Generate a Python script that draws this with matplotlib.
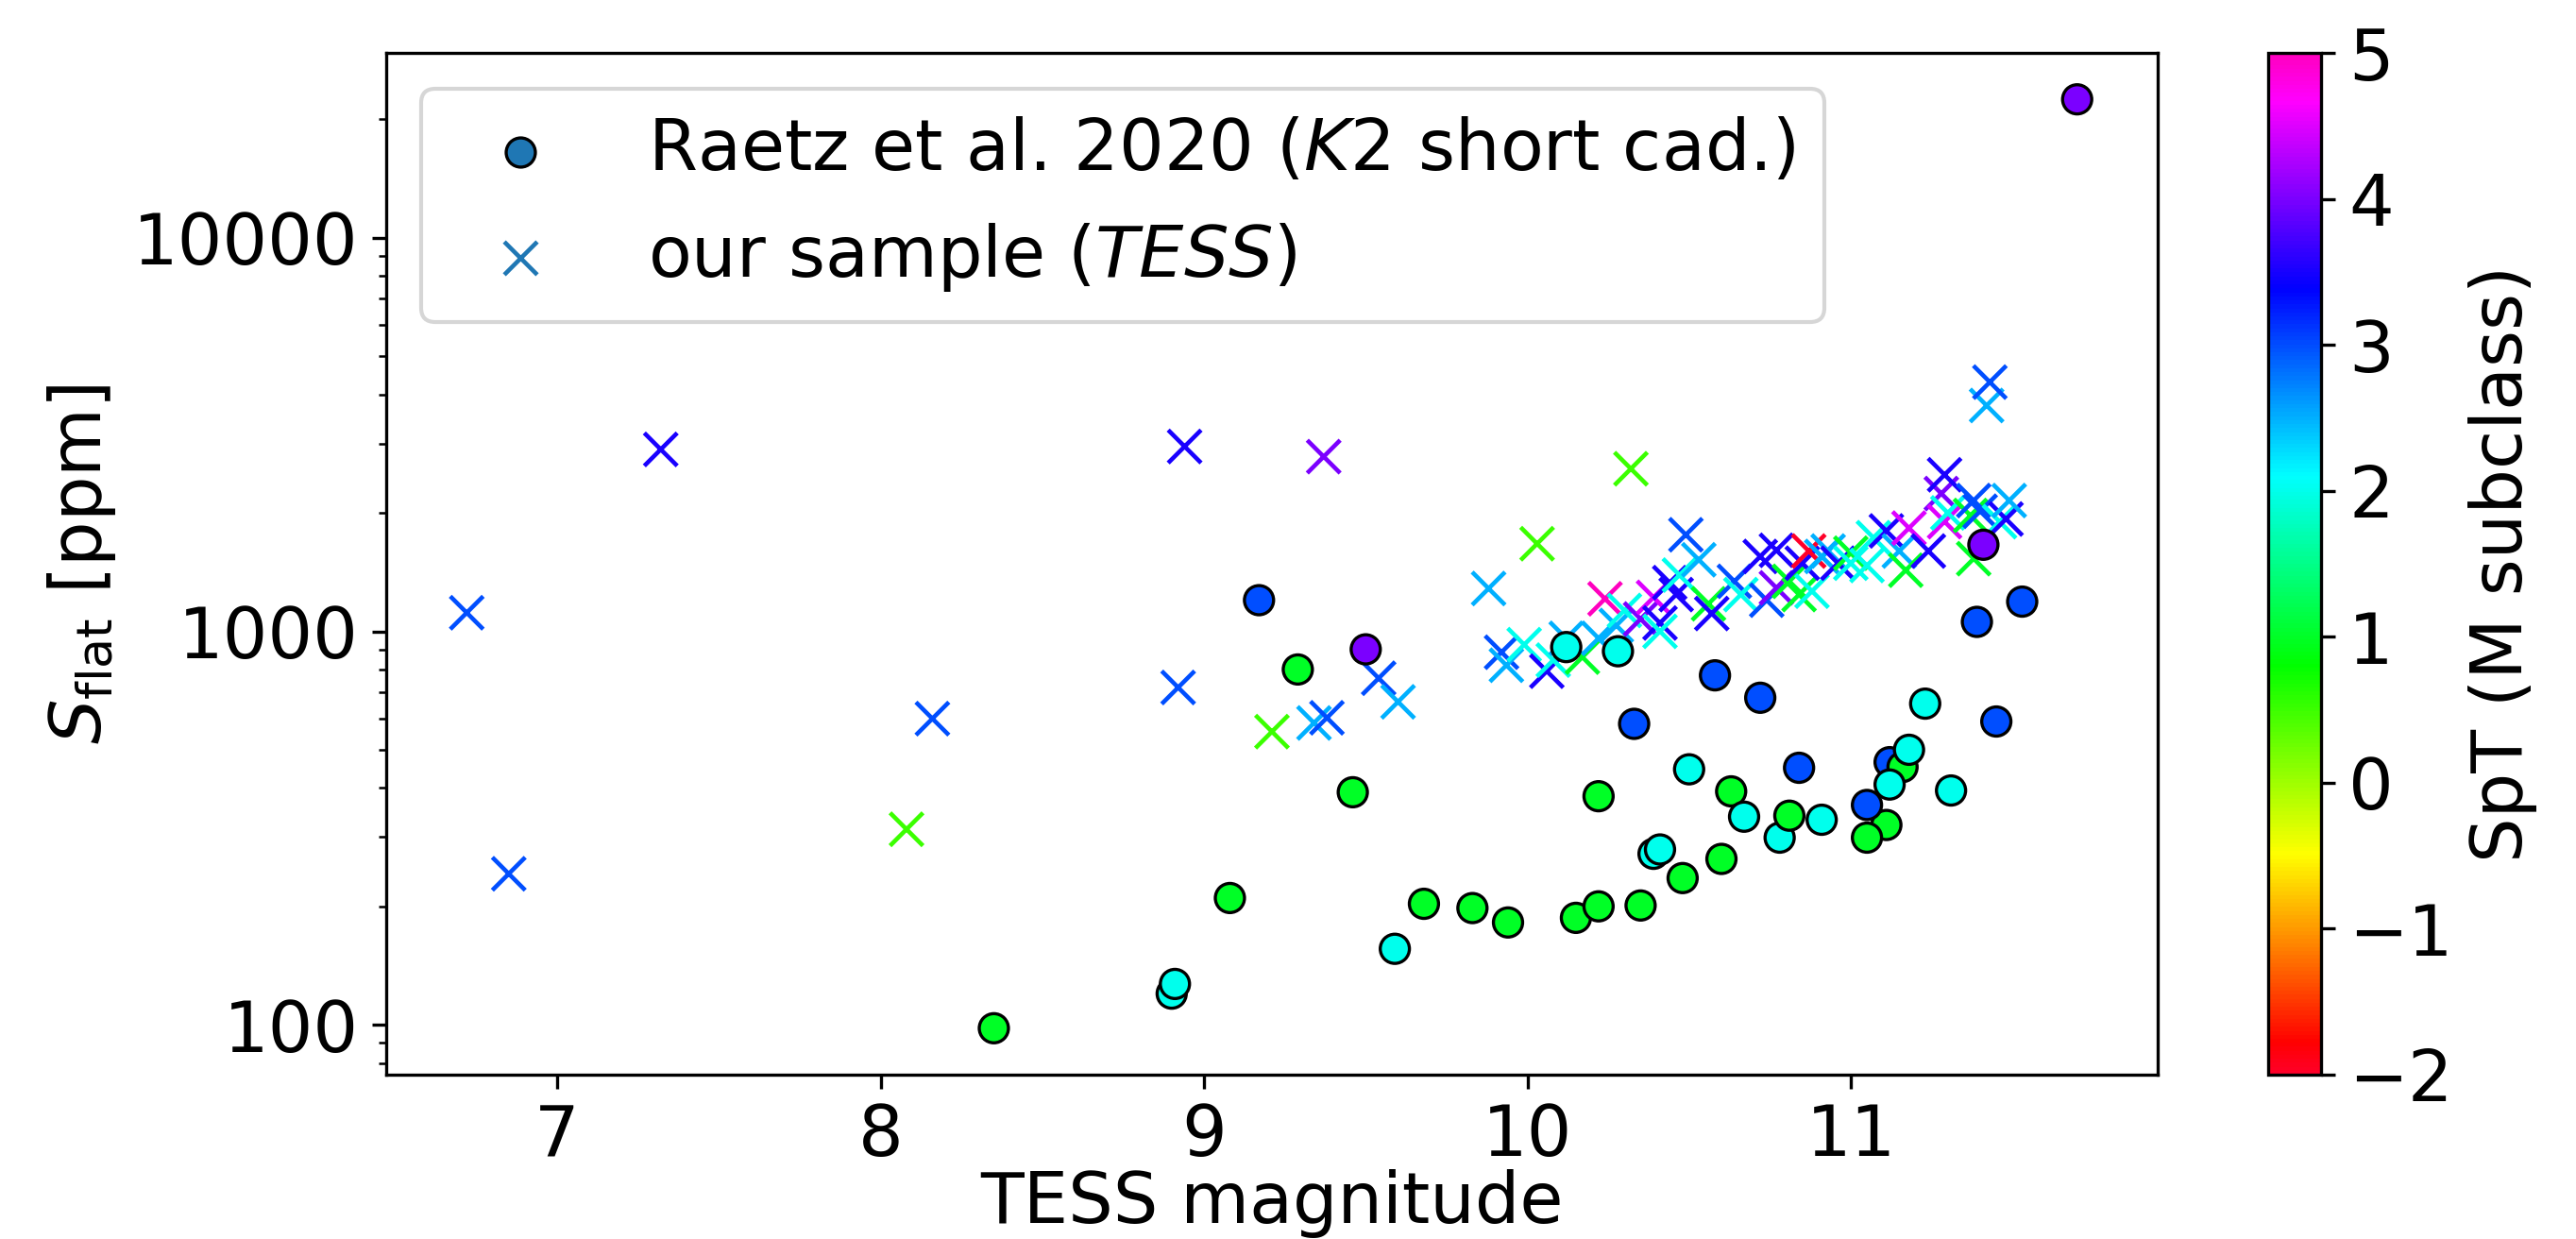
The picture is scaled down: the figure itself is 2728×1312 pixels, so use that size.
import numpy as np
import matplotlib
matplotlib.use('Agg')
import matplotlib.pyplot as plt
from matplotlib.ticker import ScalarFormatter

plt.rcParams['font.size'] = 18

# Raetz et al. 2020 (K2 short cadence): TESS mag, S_flat [ppm], SpT (M subclass)
raetz_mag = [8.35, 8.90, 8.91, 9.08, 9.17, 9.29, 9.46, 9.50, 9.59, 9.68,
             9.83, 9.94, 10.12, 10.15, 10.22, 10.22, 10.28, 10.33, 10.35, 10.39,
             10.41, 10.48, 10.50, 10.58, 10.60, 10.63, 10.67, 10.72, 10.78, 10.81,
             10.84, 10.91, 11.12, 11.16, 11.12, 11.18, 11.11, 11.05, 11.05, 11.23,
             11.31, 11.39, 11.41, 11.45, 11.53, 11.70]
raetz_sflat = [98, 120, 127, 210, 1200, 800, 390, 900, 156, 203,
               198, 182, 912, 187, 200, 381, 890, 582, 201, 272,
               279, 236, 446, 773, 264, 392, 338, 678, 299, 340,
               450, 332, 465, 452, 408, 500, 322, 362, 299, 655,
               394, 1057, 1660, 590, 1190, 22500]
raetz_spt = [1, 2, 2, 1, 3, 1, 1, 4, 2, 1,
             1, 1, 2, 1, 1, 1, 2, 3, 1, 2,
             2, 1, 2, 3, 1, 1, 2, 3, 2, 1,
             3, 2, 3, 1, 2, 2, 1, 3, 1, 2,
             2, 3, 4, 3, 3, 4]

# our sample (TESS)
tess_mag = [6.72, 6.85, 7.32, 8.08, 8.16, 8.92, 8.94, 9.21, 9.34, 9.37,
            9.38, 9.54, 9.60, 9.88, 9.92, 9.935, 9.99, 10.03, 10.06, 10.08,
            10.12, 10.17, 10.22, 10.24, 10.275, 10.30, 10.32, 10.35, 10.39, 10.41,
            10.41, 10.44, 10.46, 10.47, 10.49, 10.53, 10.56, 10.57, 10.64, 10.66,
            10.72, 10.74, 10.77, 10.77, 10.81, 10.84, 10.85, 10.87, 10.88, 10.91,
            10.93, 10.96, 11.00, 11.00, 11.05, 11.07, 11.11, 11.15, 11.17, 11.18,
            11.24, 11.28, 11.29, 11.29, 11.30, 11.37, 11.38, 11.38, 11.40, 11.42,
            11.43, 11.46, 11.48, 11.49]
tess_sflat = [1115, 242, 2900, 314, 600, 720, 2950, 556, 585, 2780,
              603, 760, 662, 1285, 885, 820, 925, 1670, 792, 845,
              960, 860, 960, 1210, 1035, 1130, 2590, 1075, 1220, 1050,
              1000, 1330, 1240, 1390, 1760, 1520, 1175, 1110, 1340, 1240,
              1550, 1200, 1290, 1607, 1340, 1240, 1490, 1600, 1265, 1550,
              1600, 1490, 1580, 1490, 1470, 1730, 1800, 1600, 1430, 1830,
              1600, 2240, 2500, 1900, 2000, 1970, 2150, 1530, 2020, 3750,
              4300, 1900, 1930, 2150]
tess_spt = [3, 3, 3.5, 0.5, 3, 3, 3.5, 0.5, 2.5, 4,
            3, 3, 2.5, 2.5, 3, 2.5, 2, 0.5, 3.5, 2,
            2.5, 1, 2.5, 5, 2.5, 2, 0.5, 4, 4.5, 3.5,
            2, 3.5, 3.5, 2, 3, 2.5, 1, 3.5, 3, 2,
            3.5, 3, 4, 3.5, 1, 1, 3.5, -2, 2, 2.5,
            2.5, 3.5, 1, 2, 2, 2, 3.5, 2.5, 1, 4.5,
            3.5, 4, 3.5, 4.5, 2, 1, 3, 1, 3, 2.5,
            3, 2, 3.5, 2.5]

fig = plt.figure(figsize=(2729 / 300, 1312 / 300), dpi=300)
ax = fig.add_axes([409 / 2729, 174 / 1312, 1876 / 2729, 1082 / 1312])
cax = fig.add_axes([2402 / 2729, 174 / 1312, 56 / 2729, 1082 / 1312])

ax.scatter(tess_mag, tess_sflat, c=tess_spt, cmap='gist_rainbow', vmin=-2, vmax=5,
           marker='x', s=70, linewidths=1.1)
sc = ax.scatter(raetz_mag, raetz_sflat, c=raetz_spt, cmap='gist_rainbow', vmin=-2, vmax=5,
                marker='o', s=55, edgecolors='k', linewidths=0.8)

ax.set_yscale('log')
ax.yaxis.set_major_formatter(ScalarFormatter())
ax.set_xlabel('TESS magnitude', labelpad=-0.5)
ax.set_ylabel(r'$S_{\rm flat}$ [ppm]')

# legend proxies in the default colour
h1 = ax.scatter([], [], marker='o', c='tab:blue', s=55, edgecolors='k', linewidths=0.8,
                label=r'Raetz et al. 2020 ($\it{K2}$ short cad.)')
h2 = ax.scatter([], [], marker='x', c='tab:blue', s=70, linewidths=1.1,
                label=r'our sample ($\it{TESS}$)')
ax.legend(handles=[h1, h2], loc='upper left')

cb = fig.colorbar(sc, cax=cax, ticks=range(-2, 6))
cb.set_label('SpT (M subclass)')

fig.savefig('out.png', dpi=300)
